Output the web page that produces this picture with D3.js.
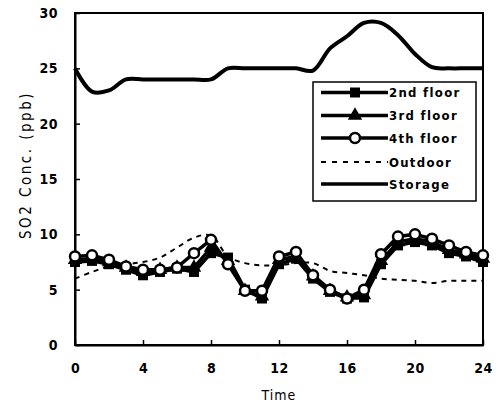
<!DOCTYPE html>
<html>
<head>
<meta charset="utf-8">
<script src="https://cdn.jsdelivr.net/npm/d3@7"></script>
<style>
  html, body { margin: 0; padding: 0; background: #fff; }
  svg text { font-family: "DejaVu Sans Condensed", "DejaVu Sans", sans-serif; fill: #000; }
</style>
</head>
<body>
<svg id="chart" width="498" height="403"></svg>
<script>
// Hourly SO2 concentrations (ppb), 0–24 h
const hours = d3.range(0, 25);
const floor2 = [7.5, 7.6, 7.3, 6.8, 6.3, 6.6, 6.9, 6.6, 8.3, 7.9, 5.0, 4.2, 7.3, 7.8, 6.0, 4.8, 4.2, 4.3, 7.3, 9.0, 9.3, 9.0, 8.3, 8.0, 7.5];
const floor3 = [7.7, 7.8, 7.5, 7.0, 6.6, 6.8, 7.0, 7.0, 8.8, 7.6, 4.9, 4.4, 7.7, 8.0, 6.2, 4.9, 4.3, 4.5, 7.6, 9.3, 9.6, 9.3, 8.6, 8.2, 7.8];
const floor4 = [8.0, 8.1, 7.7, 7.1, 6.8, 6.8, 7.0, 8.3, 9.5, 7.3, 4.9, 4.9, 8.0, 8.4, 6.3, 5.0, 4.2, 5.0, 8.2, 9.8, 10.0, 9.6, 9.0, 8.4, 8.1];
const outdoor = [6.0, 6.6, 7.1, 7.3, 7.5, 7.9, 8.8, 9.7, 9.9, 8.0, 7.4, 7.2, 7.2, 7.4, 7.4, 6.7, 6.5, 6.3, 6.0, 5.9, 5.8, 5.6, 5.8, 5.8, 5.8];
const storage = [25.0, 22.9, 23.0, 24.0, 24.0, 24.0, 24.0, 24.0, 24.0, 25.0, 25.0, 25.0, 25.0, 25.0, 24.8, 26.8, 27.9, 29.1, 29.1, 28.0, 26.3, 25.1, 25.0, 25.0, 25.0];

const xTicks = [0, 4, 8, 12, 16, 20, 24];
const yTicks = [0, 5, 10, 15, 20, 25, 30];
const legendLabels = ["2nd floor", "3rd floor", "4th floor", "Outdoor", "Storage"];

const svg = d3.select("#chart");
const margin = { left: 75, top: 13, right: 15, bottom: 58 };
const W = 498, H = 403;
const x = d3.scaleLinear().domain([0, 24]).range([margin.left, W - margin.right]);
const y = d3.scaleLinear().domain([0, 30]).range([H - margin.bottom, margin.top]);

// frame
svg.append("rect")
  .attr("x", x(0)).attr("y", y(30))
  .attr("width", x(24) - x(0)).attr("height", y(0) - y(30))
  .attr("fill", "none").attr("stroke", "#000").attr("stroke-width", 2);

// axes with inward ticks
const xAxis = svg.append("g")
  .attr("transform", `translate(0,${y(0)})`)
  .call(d3.axisBottom(x).tickValues(xTicks).tickSizeInner(-5).tickSizeOuter(0).tickPadding(18));
const yAxis = svg.append("g")
  .attr("transform", `translate(${x(0)},0)`)
  .call(d3.axisLeft(y).tickValues(yTicks).tickSizeInner(-5).tickSizeOuter(0).tickPadding(17));
[xAxis, yAxis].forEach(g => {
  g.select(".domain").attr("stroke", "#000").attr("stroke-width", 2);
  g.selectAll(".tick line").attr("stroke", "#000").attr("stroke-width", 1.5);
  g.selectAll(".tick text")
    .style("font-family", '"DejaVu Sans Condensed", sans-serif')
    .style("font-weight", "bold")
    .style("font-size", "14px")
    .style("letter-spacing", "0.5px")
    .attr("fill", "#000");
});

svg.append("text")
  .attr("x", x(12)).attr("y", 400)
  .attr("text-anchor", "middle")
  .style("font-size", "14px").style("letter-spacing", "1px")
  .text("Time");

svg.append("text")
  .attr("transform", `translate(31,165) rotate(-90)`)
  .attr("text-anchor", "middle")
  .style("font-size", "15px").style("letter-spacing", "2.5px")
  .text("SO2 Conc. (ppb)");

const lineLinear = d3.line().x((d, i) => x(hours[i])).y(d => y(d));
const lineSmooth = d3.line().x((d, i) => x(hours[i])).y(d => y(d)).curve(d3.curveCatmullRom.alpha(0.5));

// storage & outdoor
svg.append("path").datum(storage).attr("d", lineSmooth)
  .attr("fill", "none").attr("stroke", "#000").attr("stroke-width", 4).attr("stroke-linejoin", "round");
svg.append("path").datum(outdoor).attr("d", lineSmooth)
  .attr("fill", "none").attr("stroke", "#000").attr("stroke-width", 2).attr("stroke-dasharray", "5,5");

const sq = d3.symbol().type(d3.symbolSquare).size(100);
const tri = d3.symbol().type(d3.symbolTriangle).size(90);

function floorSeries(data, marker) {
  svg.append("path").datum(data).attr("d", lineLinear)
    .attr("fill", "none").attr("stroke", "#000").attr("stroke-width", 3.5).attr("stroke-linejoin", "round");
  const g = svg.append("g");
  data.forEach((v, i) => drawMarker(g, marker, x(hours[i]), y(v)));
}

function drawMarker(g, marker, cx, cy) {
  if (marker === "square") {
    g.append("path").attr("d", sq).attr("transform", `translate(${cx},${cy})`).attr("fill", "#000");
  } else if (marker === "triangle") {
    g.append("path").attr("d", tri).attr("transform", `translate(${cx},${cy})`).attr("fill", "#000");
  } else {
    g.append("circle").attr("cx", cx).attr("cy", cy).attr("r", 5)
      .attr("fill", "#fff").attr("stroke", "#000").attr("stroke-width", 2.5);
  }
}

floorSeries(floor2, "square");
floorSeries(floor3, "triangle");
floorSeries(floor4, "circle");

// legend
const lg = svg.append("g");
lg.append("rect").attr("x", 313).attr("y", 82).attr("width", 163).attr("height", 119)
  .attr("fill", "#fff").attr("stroke", "#000").attr("stroke-width", 1.5);
const rowY = [92.5, 115.5, 138, 162, 184];
const markers = ["square", "triangle", "circle", null, null];
legendLabels.forEach((lab, i) => {
  const ly = rowY[i];
  const ln = lg.append("line").attr("x1", 321).attr("x2", 388).attr("y1", ly).attr("y2", ly)
    .attr("stroke", "#000");
  if (i === 3) ln.attr("stroke-width", 2).attr("stroke-dasharray", "5,6");
  else ln.attr("stroke-width", 3.5);
  if (markers[i]) drawMarker(lg, markers[i], 355, ly);
  lg.append("text").attr("x", 389).attr("y", ly).attr("dy", "0.36em")
    .style("font-size", "13px").style("font-weight", "bold").style("letter-spacing", "1.3px")
    .text(lab);
});
</script>
</body>
</html>
